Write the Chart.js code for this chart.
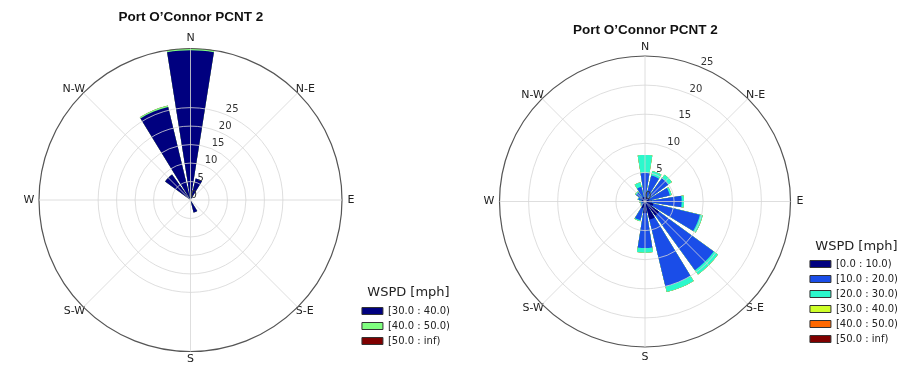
<!DOCTYPE html>
<html>
<head>
<meta charset="utf-8">
<title>Port O’Connor PCNT 2 wind roses</title>
<script src="https://cdn.jsdelivr.net/npm/chart.js@4.4.1/dist/chart.umd.min.js"></script>
<style>
  html, body { margin: 0; padding: 0; background: #fff; }
  .row { display: flex; width: 919px; height: 365px; }
  canvas { display: block; }
</style>
</head>
<body>
<div class="row">
  <canvas id="roseLeft" width="460" height="365"></canvas>
  <canvas id="roseRight" width="459" height="365"></canvas>
</div>
<script>
// 16 sectors, clockwise from north
var directions = ['N', 'NNE', 'NE', 'ENE', 'E', 'ESE', 'SE', 'SSE', 'S', 'SSW', 'SW', 'WSW', 'W', 'WNW', 'NW', 'NNW'];
var compassLabels = ['N', 'N-E', 'E', 'S-E', 'S', 'S-W', 'W', 'N-W'];
var ringTicks = [0, 5, 10, 15, 20, 25];

// left rose, frequency (%) per sector for each speed bin
var leftBins = ['[30.0 : 40.0)', '[40.0 : 50.0)', '[50.0 : inf)'];
var leftColors = ['#00007f', '#7fff7f', '#7f0000'];
var left30to40 = [40.5, 6, 0, 0, 0, 0, 0, 3.5, 0, 0, 0, 0, 0, 0, 8.5, 25.9];
var left40to50 = [0.5, 0, 0, 0, 0, 0, 0, 0, 0, 0, 0, 0, 0, 0, 0, 0.4];
var left50up = [0, 0, 0, 0, 0, 0, 0, 0, 0, 0, 0, 0, 0, 0, 0, 0];
var leftMax = 41;

// right rose
var rightBins = ['[0.0 : 10.0)', '[10.0 : 20.0)', '[20.0 : 30.0)', '[30.0 : 40.0)', '[40.0 : 50.0)', '[50.0 : inf)'];
var rightColors = ['#00007f', '#1a4de8', '#2cf8cc', '#ceff29', '#ff6800', '#7f0000'];
var right0to10 = [0.8, 0.8, 0.8, 0.8, 1.2, 1.5, 3.0, 3.2, 2.0, 1.2, 0.5, 0.4, 0.5, 0.6, 0.8, 0.8];
var right10to20 = [4.1, 3.8, 4.2, 3.6, 5.1, 8.2, 11.6, 11.8, 6.0, 2.1, 0.4, 0.3, 0.4, 0.6, 1.1, 1.8];
var right20to30 = [3.1, 0.8, 0.7, 0.3, 0.4, 0.5, 0.9, 1.0, 0.8, 0.2, 0.1, 0.1, 0.1, 0.1, 0.2, 0.8];
var right30to40 = [0, 0, 0, 0, 0, 0, 0, 0, 0, 0, 0, 0, 0, 0, 0, 0];
var right40to50 = [0, 0, 0, 0, 0, 0, 0, 0, 0, 0, 0, 0, 0, 0, 0, 0];
var right50up = [0, 0, 0, 0, 0, 0, 0, 0, 0, 0, 0, 0, 0, 0, 0, 0];
var rightMax = 25;

Chart.defaults.font.family = '"DejaVu Sans", sans-serif';

// bars are 18 deg wide with 4.5 deg gaps. the north bar is split into two
// halves so the first slot starts exactly at north and the spokes stay put
var slotAngles = [9, 4.5];
for (var i = 1; i < directions.length; i++) slotAngles.push(18, 4.5);
slotAngles.push(9);

function toSlots(values) {
  var out = [values[0], 0];
  for (var i = 1; i < values.length; i++) out.push(values[i], 0);
  out.push(values[0]);
  return out;
}

// running totals, so each bin is drawn from the centre out to its stack top
function stacked(series) {
  var running = directions.map(function () { return 0; });
  return series.map(function (s) {
    running = running.map(function (v, i) { return v + s[i]; });
    return running.slice();
  });
}

// radial tick labels sit along the 22.5 deg ray, like matplotlib's windrose
var ringLabels = {
  id: 'ringLabels',
  afterDraw: function (chart) {
    var r = chart.scales.r;
    var ctx = chart.ctx;
    ctx.save();
    ctx.font = '10px "DejaVu Sans"';
    ctx.fillStyle = '#333';
    ctx.textAlign = 'left';
    ctx.textBaseline = 'bottom';
    ringTicks.forEach(function (v) {
      var p = r.getPointPositionForValue(0.5, v);
      ctx.fillText(String(v), p.x, p.y);
    });
    ctx.restore();
  }
};

function makeRose(id, cfg) {
  var tickValues = ringTicks.slice();
  if (tickValues.indexOf(cfg.max) < 0) tickValues.push(cfg.max);

  var datasets = stacked(cfg.series).map(function (vals, k) {
    return {
      label: cfg.bins[k],
      data: toSlots(vals),
      backgroundColor: cfg.colors[k],
      borderWidth: 0,
      angle: slotAngles,
      clip: false
    };
  });

  return new Chart(document.getElementById(id), {
    type: 'polarArea',
    data: { labels: compassLabels, datasets: datasets },
    plugins: [ringLabels],
    options: {
      responsive: false,
      animation: false,
      events: [],
      layout: { padding: cfg.padding },
      plugins: {
        tooltip: { enabled: false },
        title: {
          display: true,
          text: 'Port O’Connor PCNT 2',
          fullSize: false,
          color: '#111',
          font: { family: '"Liberation Sans", Arial, sans-serif', size: 13.5, weight: 'bold' },
          padding: { top: cfg.titleTop, bottom: 4 }
        },
        legend: {
          position: 'right',
          align: 'end',
          title: {
            display: true,
            text: 'WSPD [mph]',
            color: '#222',
            font: { size: 13, lineHeight: 1 },
            padding: { top: 0, bottom: cfg.legendTitlePad }
          },
          labels: {
            boxWidth: 21,
            boxHeight: 7,
            padding: 5,
            color: '#555',
            font: { size: 10 },
            generateLabels: function () {
              return cfg.bins.map(function (b, k) {
                return { text: b, fillStyle: cfg.colors[k], strokeStyle: '#333', lineWidth: 1, hidden: false, datasetIndex: k };
              });
            }
          }
        }
      },
      scales: {
        r: {
          min: 0,
          max: cfg.max,
          startAngle: 0,
          afterBuildTicks: function (s) {
            s.ticks = tickValues.map(function (v) { return { value: v }; });
          },
          afterSetDimensions: function (s) {
            s.xCenter = cfg.cx;
            s.yCenter = cfg.cy;
            s.drawingArea = cfg.radius;
            // let the compass labels use the whole canvas when they are fitted
            s.left = -50;
            s.top = -50;
            s.right = s.chart.width + 50;
            s.bottom = s.chart.height + 50;
          },
          ticks: { display: false },
          grid: {
            circular: true,
            z: 1,
            color: function (ctx) { return ctx.tick && ctx.tick.value === cfg.max ? '#555' : '#d5d5d5'; },
            lineWidth: function (ctx) { return ctx.tick && ctx.tick.value === cfg.max ? 1.2 : 0.8; }
          },
          angleLines: { display: true, color: '#d5d5d5', lineWidth: 0.8 },
          pointLabels: {
            display: true,
            color: '#222',
            font: { size: 11, lineHeight: 1 },
            padding: function (ctx) { return cfg.labelPad[ctx.index]; }
          }
        }
      }
    }
  });
}

makeRose('roseLeft', {
  bins: leftBins,
  colors: leftColors,
  series: [left30to40, left40to50, left50up],
  max: leftMax,
  cx: 190.5, cy: 200, radius: 151.5,
  titleTop: 9.4,
  legendTitlePad: 1.5,
  padding: { left: 25, right: 0, top: 0, bottom: 14 },
  labelPad: [5.2, -2.5, 5.5, -2.5, 2, -2.5, 4.5, -2.5]
});

makeRose('roseRight', {
  bins: rightBins,
  colors: rightColors,
  series: [right0to10, right10to20, right20to30, right30to40, right40to50, right50up],
  max: rightMax,
  cx: 185, cy: 201.5, radius: 145.5,
  titleTop: 21.9,
  legendTitlePad: 0.5,
  padding: { left: 26, right: 11, top: 0, bottom: 16 },
  labelPad: [3.5, -2.5, 6, -2.5, 5, -2.5, 5, -2.5]
});
</script>
</body>
</html>
